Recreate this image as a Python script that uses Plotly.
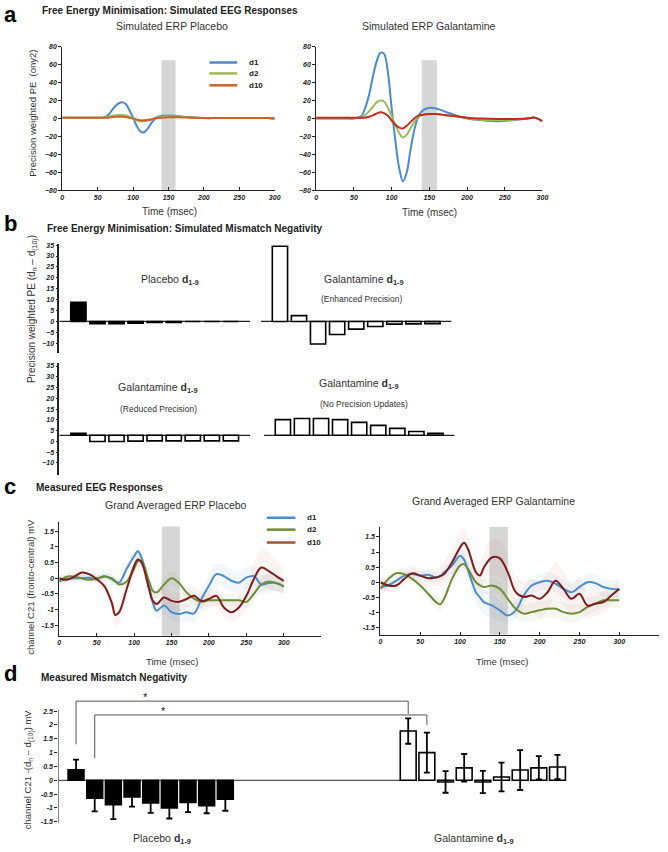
import plotly.graph_objects as go

W, H = 668, 852

# ---------- panel a: simulated ERPs (precision weighted PE) ----------
t_sim = [0, 10, 20, 30, 40, 50, 55, 60, 65, 70, 75, 80, 85, 90, 95, 100,
         105, 110, 115, 120, 125, 130, 135, 140, 150, 160, 170, 180, 190, 200,
         220, 240, 260, 280, 290, 300]
sim_pla_d1 = [1, 1, 1, 1, 1, 1, 1, 1.5, 4, 9, 14, 17, 18, 16, 9, 1,
              -8, -14, -15.5, -12, -6, -1, 2, 3, 3.5, 3, 2, 1.5, 1, 0.5,
              0.5, 0.5, 0.5, 0.5, 0.5, 0]
sim_pla_d2 = [1, 1, 1, 1, 1, 1, 1, 1.5, 2, 3, 3.5, 4, 4, 3.5, 2, 0,
              -2, -3, -3, -2.5, -1.5, 0, 1, 2, 2.5, 2.5, 2, 1.5, 1, 0.5,
              0.5, 0.5, 0.5, 0.5, 0.5, 0]
sim_pla_d10 = [1, 1, 1, 1, 1, 1, 1, 1, 1, 1.5, 2, 2, 2, 1.5, 1, 0,
               -1, -2, -2, -1.5, -1, 0, 0.5, 1, 1.5, 1.5, 1.2, 1, 0.8, 0.5,
               0.5, 0.5, 0.5, 0.5, 0.5, 0]
sim_gal_d1 = [0, 0, 0, 0, 0, 0, 1, 3, 12, 26, 46, 63, 73, 72, 52, 12,
              -25, -55, -70, -60, -35, -13, 1, 8, 12, 11, 8, 5, 2, 0,
              -2, -3, -2, 0, 1, -3]
sim_gal_d2 = [0, 0, 0, 0, 0, 0, 0.5, 1.5, 4, 8, 13, 18, 20, 19, 12, 3,
              -7, -16, -21, -18, -11, -4, 1, 4, 5, 5, 4, 3, 2, 0.5,
              -1.5, -2, -1.5, 0, 1, -3]
sim_gal_d10 = [1, 1, 1, 1, 1, 1, 1, 1, 1, 2, 3.5, 5.5, 7, 6, 3, -2,
               -7, -10, -11, -8, -4, 0, 3, 4, 5, 5, 4, 3, 2, 1,
               0, -0.5, -0.5, 0, 1, -3]

# ---------- panel b: simulated mismatch negativity (d1..d9 - d10) ----------
mmn_placebo = [8.8, -1.0, -1.0, -0.8, -0.5, -0.4, 0, 0, 0]
mmn_enhanced = [34.5, 2.7, -10.3, -6.0, -3.5, -2.3, -1.2, -1.1, -1.0]
mmn_reduced = [0.9, -2.9, -2.9, -2.7, -2.6, -2.6, -2.6, -2.6, -2.6]
mmn_no_update = [7.3, 7.8, 7.8, 7.3, 6.0, 4.6, 3.2, 1.8, 0.9]
mmn_offset = 2.8  # baseline of the lower two simulated plots

# ---------- panel c: measured grand averaged ERPs ----------
t_meas = [0, 10, 20, 30, 40, 50, 60, 70, 75, 80, 90, 100, 105, 110, 120, 125,
          130, 140, 150, 160, 170, 180, 190, 200, 210, 220, 230, 240, 250, 260,
          270, 280, 290, 300]
erp_pla_d1 = [-0.08, -0.03, 0, 0, 0.02, -0.03, 0.07, -0.03, -0.1, -0.14, 0.3, 0.7, 0.86, 0.65, -0.25, -0.77,
              -1.03, -0.87, -1.08, -1.14, -1.08, -1.12, -0.66, -0.24, 0.13, 0.07, -0.08, -0.14, 0.02, 0.07,
              -0.2, -0.15, -0.15, -0.25]
erp_pla_d2 = [-0.1, 0.05, 0.05, 0, -0.05, 0, 0.05, 0, -0.1, -0.2, -0.1, 0.3, 0.55, 0.55, -0.1, -0.4,
              -0.45, -0.2, 0, -0.15, -0.45, -0.65, -0.75, -0.7, -0.7, -0.7, -0.7, -0.7, -0.75, -0.5,
              -0.2, -0.1, -0.15, -0.27]
erp_pla_d10 = [0, -0.05, 0.05, 0.18, 0.13, -0.03, -0.24, -0.77, -1.17, -1.08, -0.35, 0.39, 0.6, 0.5, -0.35, -0.72,
               -0.82, -0.61, -0.72, -0.75, -0.66, -0.56, -0.72, -0.66, -0.56, -0.93, -1.08, -0.93, -0.56, -0.03,
               0.34, 0.23, 0.07, -0.08]
erp_gal_d1 = [-0.16, -0.1, 0.05, 0.22, 0.27, 0.22, 0.25, 0.16, 0.2, 0.33, 0.55, 0.88, 0.75, 0.4, -0.33, -0.5,
              -0.66, -0.77, -0.93, -1.1, -0.93, -0.44, -0.11, 0, 0.05, -0.05, -0.22, -0.33, -0.16, 0,
              -0.03, -0.16, -0.22, -0.24]
erp_gal_d2 = [-0.22, 0.11, 0.3, 0.27, 0.11, -0.11, -0.38, -0.66, -0.73, -0.55, 0.11, 0.55, 0.6, 0.44, 0, -0.1,
              -0.16, -0.11, -0.22, -0.55, -0.88, -1.04, -0.99, -0.93, -0.88, -0.88, -0.99, -1.04, -0.99, -0.82,
              -0.71, -0.6, -0.6, -0.6]
erp_gal_d10 = [0, -0.11, -0.11, 0.11, 0.3, 0.22, 0.13, 0.16, 0.2, 0.27, 0.66, 1.15, 1.31, 1.1, 0.33, 0.22,
               0.49, 0.82, 0.79, 0.33, -0.33, -0.49, -0.44, -0.55, -0.33, 0.05, -0.22, -0.55, -0.38, -0.77,
               -0.71, -0.66, -0.44, -0.22]
# standard errors (shaded bands)
sem_pla_d1 = [0.1, 0.1, 0.1, 0.1, 0.1, 0.1, 0.12, 0.12, 0.12, 0.12, 0.15, 0.15, 0.15, 0.15, 0.2, 0.25,
              0.25, 0.28, 0.28, 0.28, 0.28, 0.28, 0.3, 0.3, 0.35, 0.35, 0.35, 0.35, 0.35, 0.3,
              0.3, 0.3, 0.25, 0.25]
sem_pla_d2 = [0.12, 0.12, 0.12, 0.12, 0.12, 0.12, 0.12, 0.15, 0.15, 0.15, 0.15, 0.2, 0.2, 0.2, 0.2, 0.2,
              0.2, 0.22, 0.22, 0.22, 0.2, 0.2, 0.2, 0.2, 0.2, 0.2, 0.2, 0.2, 0.22, 0.25,
              0.25, 0.25, 0.25, 0.2]
sem_pla_d10 = [0.15, 0.15, 0.15, 0.15, 0.15, 0.15, 0.2, 0.3, 0.35, 0.35, 0.3, 0.25, 0.25, 0.25, 0.3, 0.3,
               0.3, 0.3, 0.3, 0.3, 0.3, 0.3, 0.3, 0.3, 0.3, 0.3, 0.35, 0.35, 0.4, 0.5,
               0.6, 0.6, 0.5, 0.4]
sem_gal_d1 = [0.12, 0.12, 0.12, 0.12, 0.12, 0.15, 0.15, 0.15, 0.15, 0.2, 0.25, 0.3, 0.3, 0.3, 0.35, 0.4,
              0.4, 0.4, 0.35, 0.3, 0.3, 0.3, 0.3, 0.3, 0.3, 0.3, 0.3, 0.3, 0.3, 0.3,
              0.3, 0.3, 0.3, 0.3]
sem_gal_d2 = [0.15, 0.15, 0.15, 0.15, 0.15, 0.15, 0.2, 0.2, 0.2, 0.2, 0.2, 0.25, 0.25, 0.25, 0.25, 0.25,
              0.25, 0.25, 0.25, 0.3, 0.3, 0.3, 0.3, 0.3, 0.3, 0.3, 0.3, 0.3, 0.3, 0.3,
              0.25, 0.25, 0.25, 0.25]
sem_gal_d10 = [0.2, 0.2, 0.2, 0.2, 0.25, 0.25, 0.3, 0.3, 0.35, 0.4, 0.45, 0.5, 0.5, 0.45, 0.4, 0.45,
               0.5, 0.6, 0.6, 0.55, 0.5, 0.5, 0.55, 0.6, 0.6, 0.6, 0.55, 0.5, 0.5, 0.45,
               0.4, 0.35, 0.3, 0.3]

# ---------- panel d: measured mismatch negativity ----------
meas_placebo = [0.38, -0.65, -0.88, -0.6, -0.82, -1.0, -0.8, -0.92, -0.68]
meas_placebo_err = [0.37, 0.47, 0.52, 0.35, 0.36, 0.38, 0.35, 0.27, 0.42]
meas_galant = [1.78, 1.0, -0.06, 0.45, -0.06, 0.12, 0.37, 0.45, 0.48]
meas_galant_err = [0.46, 0.72, 0.39, 0.5, 0.4, 0.52, 0.72, 0.42, 0.44]

BLUE, GREEN, ORANGE, RED = "#4A8BCB", "#9BBB59", "#C8642A", "#C42A1E"
M_BLUE, M_GREEN, M_RED = "#4C8DC9", "#6F8C3C", "#7A1F1F"
FONT = "Arial, Liberation Sans, sans-serif"
TICKFONT = dict(family=FONT, size=7, color="#222", weight="bold", style="italic")


def xdom(a, b):
    return [a / W, b / W]


def ydom(top, bottom):
    return [1 - bottom / H, 1 - top / H]


fig = go.Figure()

# panel a lines
for n, (ys, cols) in enumerate([((sim_pla_d1, sim_pla_d2, sim_pla_d10), (BLUE, GREEN, ORANGE)),
                                ((sim_gal_d1, sim_gal_d2, sim_gal_d10), (BLUE, GREEN, RED))], start=1):
    for y, c in zip(ys, cols):
        fig.add_trace(go.Scatter(x=t_sim, y=y, mode="lines", line=dict(color=c, width=2, shape="spline"),
                                 xaxis=f"x{n}", yaxis=f"y{n}", showlegend=False))

# panel b bars
idx = list(range(9))
bar_line = dict(color="black", width=1.6)
fig.add_trace(go.Bar(x=idx, y=mmn_placebo, width=0.8, marker=dict(color="black", line=bar_line),
                     xaxis="x3", yaxis="y3", showlegend=False))
fig.add_trace(go.Bar(x=idx, y=mmn_enhanced, width=0.8, marker=dict(color="white", line=bar_line),
                     xaxis="x4", yaxis="y4", showlegend=False))
fig.add_trace(go.Bar(x=idx, y=mmn_reduced, base=mmn_offset, width=0.8,
                     marker=dict(color=["black"] + ["white"] * 8, line=bar_line),
                     xaxis="x5", yaxis="y5", showlegend=False))
fig.add_trace(go.Bar(x=idx, y=mmn_no_update, base=mmn_offset, width=0.8,
                     marker=dict(color="white", line=bar_line),
                     xaxis="x6", yaxis="y6", showlegend=False))


def rgba(hexc, a):
    h = hexc.lstrip("#")
    return f"rgba({int(h[0:2], 16)},{int(h[2:4], 16)},{int(h[4:6], 16)},{a})"


# panel c lines with shaded SEM
for n, series in [(7, [(erp_pla_d1, sem_pla_d1, M_BLUE), (erp_pla_d2, sem_pla_d2, M_GREEN),
                       (erp_pla_d10, sem_pla_d10, "#D05050")]),
                  (8, [(erp_gal_d1, sem_gal_d1, M_BLUE), (erp_gal_d2, sem_gal_d2, M_GREEN),
                       (erp_gal_d10, sem_gal_d10, "#D05050")])]:
    for y, s, c in series:
        up = [v + e for v, e in zip(y, s)]
        lo = [v - e for v, e in zip(y, s)]
        fig.add_trace(go.Scatter(x=t_meas, y=up, mode="lines", line=dict(width=0, shape="spline"),
                                 xaxis=f"x{n}", yaxis=f"y{n}", showlegend=False, hoverinfo="skip"))
        fig.add_trace(go.Scatter(x=t_meas, y=lo, mode="lines", line=dict(width=0, shape="spline"),
                                 fill="tonexty", fillcolor=rgba(c, 0.07),
                                 xaxis=f"x{n}", yaxis=f"y{n}", showlegend=False, hoverinfo="skip"))
    for y, c in [(series[0][0], M_BLUE), (series[1][0], M_GREEN), (series[2][0], M_RED)]:
        fig.add_trace(go.Scatter(x=t_meas, y=y, mode="lines", line=dict(color=c, width=2, shape="spline"),
                                 xaxis=f"x{n}", yaxis=f"y{n}", showlegend=False))

# panel d bars
gal_x = [17.8 + i for i in idx]
err_style = dict(type="data", thickness=1.8, width=3, color="black")
fig.add_trace(go.Bar(x=idx, y=meas_placebo, width=0.85, marker=dict(color="black", line=bar_line),
                     error_y=dict(array=meas_placebo_err, **err_style),
                     xaxis="x9", yaxis="y9", showlegend=False))
fig.add_trace(go.Bar(x=gal_x, y=meas_galant, width=0.85, marker=dict(color="white", line=bar_line),
                     error_y=dict(array=meas_galant_err, **err_style),
                     xaxis="x9", yaxis="y9", showlegend=False))

# ---------- axes ----------
base_ax = dict(showgrid=False, zeroline=False, showline=True, linecolor="#222", linewidth=1,
               ticks="outside", ticklen=3, tickcolor="#222", tickfont=TICKFONT)
ax_specs = {
    1: ((61, 276), [0, 300], (43, 188), [-80, 80]),
    2: ((318, 547), [0, 300], (43, 188), [-80, 80]),
    3: ((58, 251), [-1, 9], (242, 352), [-14.5, 35.5]),
    4: ((262, 455), [-1, 9], (242, 352), [-14.5, 35.5]),
    5: ((58, 251), [-1, 9], (362, 475), [-15.7, 36.4]),
    6: ((265, 458), [-1, 9], (362, 475), [-15.7, 36.4]),
    7: ((58, 323), [0, 350], (522, 637), [-1.83, 1.8]),
    8: ((383, 665), [0, 350], (527, 636), [-1.74, 1.84]),
    9: ((57, 600), [-0.95, 27.8], (699, 826), [-1.55, 3.0]),
}
layout_axes = {}
for n, ((xa, xb), xr, (yt, yb), yr) in ax_specs.items():
    xk = "xaxis" if n == 1 else f"xaxis{n}"
    yk = "yaxis" if n == 1 else f"yaxis{n}"
    xax = dict(base_ax, domain=xdom(xa, xb), range=xr, anchor=f"y{n}")
    yax = dict(base_ax, domain=ydom(yt, yb), range=yr, anchor=f"x{n}")
    if n in (1, 2):
        xax.update(tickvals=[0, 50, 100, 150, 200, 250, 300], ticks="inside")
        yax.update(tickvals=list(range(-80, 81, 20)))
    elif n in (3, 5):
        xax = dict(xax, visible=False)
        yax.update(tickvals=list(range(-10, 36, 5)), ticklen=2, linewidth=1.5)
    elif n in (4, 6):
        xax = dict(xax, visible=False)
        yax = dict(yax, visible=False)
    elif n in (7, 8):
        xax.update(tickvals=[0, 50, 100, 150, 200, 250, 300], ticks="inside")
        yax.update(tickvals=[-1.5, -1, -0.5, 0, 0.5, 1, 1.5],
                   ticktext=["-1.5", "-1", "-0.5", "0", "0.5", "1", "1.5"])
    elif n == 9:
        xax = dict(xax, visible=False)
        yax.update(showline=False, tickvals=[-1.5, -1, -0.5, 0, 0.5, 1, 1.5, 2, 2.5],
                   ticktext=["-1.5", "-1", "-0.5", "0", "0.5", "1", "1.5", "2", "2.5"])
    layout_axes[xk] = xax
    layout_axes[yk] = yax

# ---------- shapes ----------
shapes = []
band = dict(type="rect", fillcolor="#D6D6D6", line=dict(width=0), layer="below")
shapes.append(dict(band, xref="x", yref="y", x0=140, x1=160, y0=-80, y1=65))
shapes.append(dict(band, xref="x2", yref="y2", x0=140, x1=160, y0=-80, y1=65))
shapes.append(dict(band, xref="x7", yref="y7", x0=137, x1=161, y0=-1.83, y1=1.65))
shapes.append(dict(band, xref="x8", yref="y8", x0=137, x1=160, y0=-1.74, y1=1.84))
for n, b0 in [(3, 0), (4, 0), (5, mmn_offset), (6, mmn_offset)]:
    shapes.append(dict(type="line", xref=f"x{n}", yref=f"y{n}", x0=-1, x1=9, y0=b0, y1=b0,
                       line=dict(color="#222", width=1.2), layer="below"))
# panel d: zero line, y axis line and significance brackets
shapes.append(dict(type="line", xref="x9", yref="y9", x0=-0.95, x1=17.4, y0=0, y1=0,
                   line=dict(color="#555", width=1.2), layer="below"))
shapes.append(dict(type="line", xref="x9", yref="y9", x0=-0.95, x1=-0.95, y0=-1.55, y1=2.55,
                   line=dict(color="#222", width=1)))
for (xa, ya), (xb, yb), top in [((0, 1.3), (gal_x[0], 2.4), 2.86), ((1, 0.8), (gal_x[1], 2.0), 2.36)]:
    shapes.append(dict(type="path", xref="x9", yref="y9",
                       path=f"M {xa},{ya} L {xa},{top} L {xb},{top} L {xb},{yb}",
                       line=dict(color="#555", width=1)))

# ---------- text ----------
ann = []


def txt(x, y, text, size, bold=False, xanchor="center", angle=0, color="#222"):
    ann.append(dict(x=x / W, y=1 - y / H, xref="paper", yref="paper", text=text, showarrow=False,
                    xanchor=xanchor, yanchor="middle", textangle=angle,
                    font=dict(family=FONT, size=size, color=color, weight="bold" if bold else "normal")))


for letter, ly in [("a", 11), ("b", 221), ("c", 486), ("d", 675)]:
    txt(0, ly, letter, 22, bold=True, xanchor="left", color="black")
txt(38, 7, "Free Energy Minimisation: Simulated EEG Responses", 10, bold=True, xanchor="left")
txt(44, 226, "Free Energy Minimisation: Simulated Mismatch Negativity", 10, bold=True, xanchor="left")
txt(32, 488, "Measured EEG Responses", 10, bold=True, xanchor="left")
txt(37, 679, "Measured Mismatch Negativity", 10, bold=True, xanchor="left")

txt(172, 22, "Simulated ERP Placebo", 10.5, color="#333")
txt(432, 22, "Simulated ERP Galantamine", 10.5, color="#333")
txt(170, 209, "Time (msec)", 10, color="#333")
txt(433, 210, "Time (msec)", 10, color="#333")
txt(30, 110, "Precision weighted PE  (ony2)", 9.5, angle=-90, color="#333")

D19 = "<b>d<sub>1-9</sub></b>"
txt(170, 278, "Placebo " + D19, 10.5, color="#333")
txt(366, 278, "Galantamine " + D19, 10.5, color="#333")
txt(364, 297, "(Enhanced Precision)", 8.5, color="#333")
txt(158, 387, "Galantamine " + D19, 10.5, color="#333")
txt(158, 408, "(Reduced Precision)", 8.5, color="#333")
txt(361, 383, "Galantamine " + D19, 10.5, color="#333")
txt(366, 403, "(No Precision Updates)", 8.5, color="#333")
txt(31, 308, "Precision weighted PE (d<sub>n</sub> – d<sub>(10)</sub>)", 10, angle=-90, color="#333")

txt(176, 505, "Grand Averaged ERP Placebo", 10.5, color="#333")
txt(497, 501, "Grand Averaged ERP Galantamine", 10.5, color="#333")
txt(172, 663, "Time (msec)", 9.5, color="#333")
txt(506, 663, "Time (msec)", 9.5, color="#333")
txt(29, 588, "channel C21 (fronto-central) mV", 9.5, angle=-90, color="#333")

txt(27, 772, "channel C21 -(d<sub>n</sub> – d<sub>(10)</sub>) mV", 9.5, angle=-90, color="#333")
txt(162, 842, "Placebo " + D19, 10.5, color="#333")
txt(478, 842, "Galantamine " + D19, 10.5, color="#333")
txt(145, 699, "*", 11)
txt(163, 713, "*", 11)

# hand-drawn legends (panel a and c)
for (lx0, lx1, tx, ys, cols) in [(210, 238, 248, (59, 70, 82), (BLUE, GREEN, ORANGE)),
                                 (268, 297, 307, (518, 530, 543), (M_BLUE, M_GREEN, "#A8552A"))]:
    for yy, c, name in zip(ys, cols, ("d1", "d2", "d10")):
        shapes.append(dict(type="line", xref="paper", yref="paper", x0=lx0 / W, x1=lx1 / W,
                           y0=1 - yy / H, y1=1 - yy / H, line=dict(color=c, width=2.5)))
        txt(tx, yy, name, 8, bold=True, xanchor="left")

fig.update_layout(
    width=W, height=H, margin=dict(l=0, r=0, t=0, b=0),
    paper_bgcolor="white", plot_bgcolor="rgba(0,0,0,0)",
    barmode="overlay", showlegend=False,
    font=dict(family=FONT, color="#222"),
    shapes=shapes, annotations=ann, **layout_axes,
)
# drop the default 8px body margin so the figure fills the window exactly
fig.write_html("out.html", config={"displayModeBar": False},
               post_script="document.body.style.margin='0';")
